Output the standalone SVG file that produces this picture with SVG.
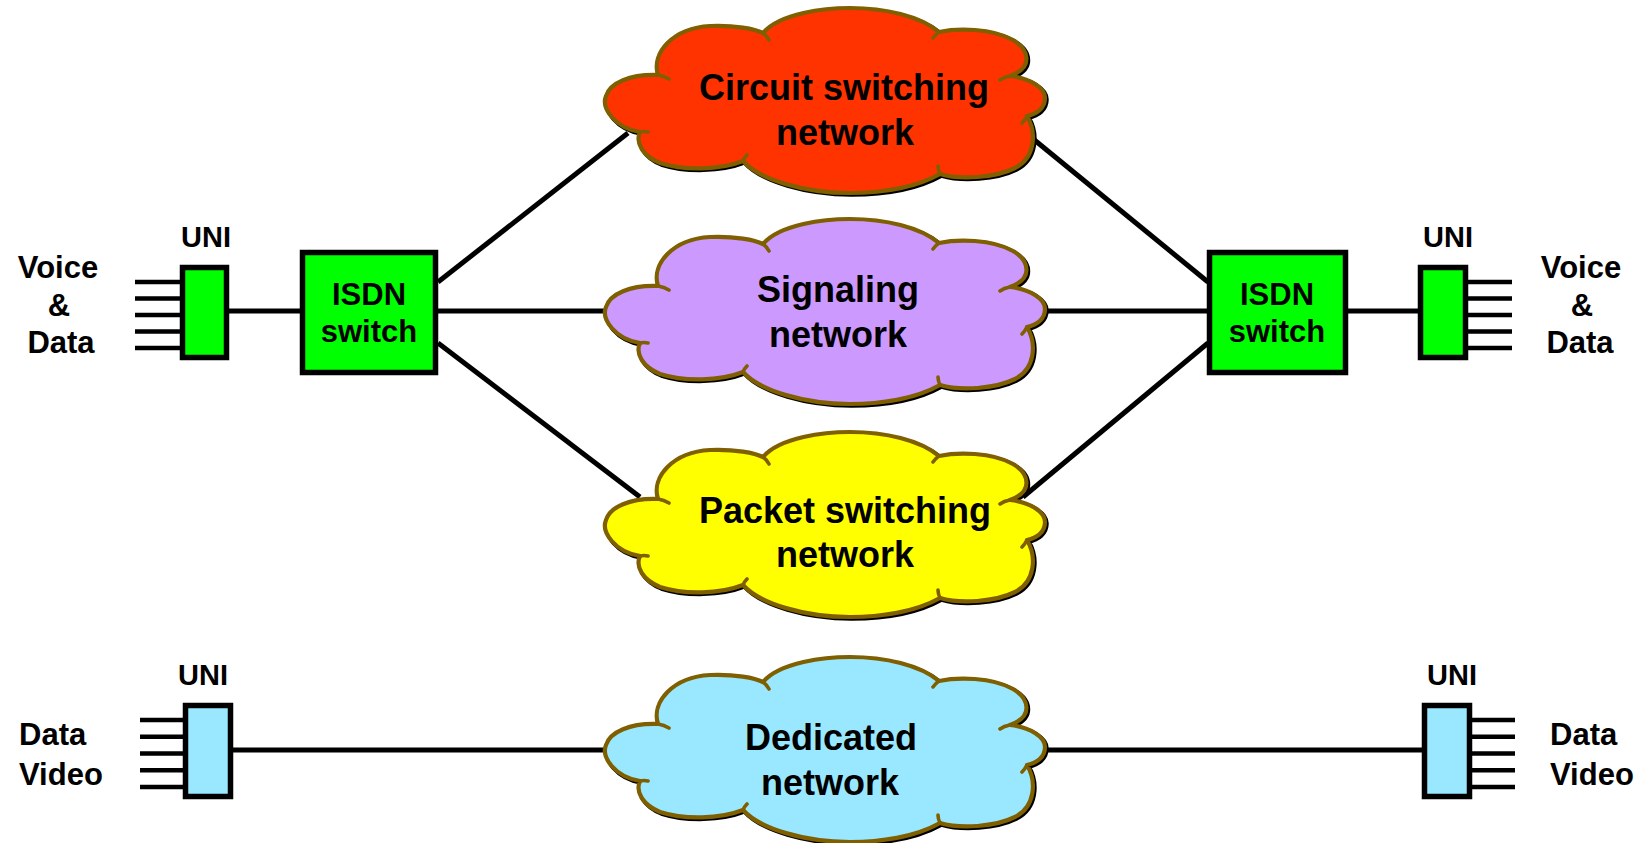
<svg xmlns="http://www.w3.org/2000/svg" xmlns:xlink="http://www.w3.org/1999/xlink" width="1644" height="843" viewBox="0 0 1644 843">
  <style>
    .lbl { font-family: "Liberation Sans", Arial, sans-serif; font-weight: bold; fill: #000; }
    .t30 { font-size: 31px; }
    .t28 { font-size: 29px; }
    .t36 { font-size: 36px; }
    .mid { text-anchor: middle; }
    .wire { stroke: #000; stroke-width: 5; fill: none; }
    .pin { stroke: #000; stroke-width: 4.5; fill: none; }
    .box { stroke: #000; stroke-width: 5.5; }
    .green { fill: #00FF00; }
    .blue { fill: #99E8FF; }
    .cloud-shadow { fill: none; stroke: #000; stroke-width: 4.5; }
    .cloud-edge { stroke: #7F5F00; stroke-width: 4.2; stroke-linejoin: round; }
    .cloud-tail { fill: none; stroke: #7F5F00; stroke-width: 3.6; stroke-linecap: round; }
  </style>
  <defs>
    <!-- cloud outline, local box 0..440 x 0..185 -->
    <path id="cloudShape" d="M 53,67
      C 46,45 68,20 105,18 C 130,17 150,21 158,25
      C 175,5 220,0 245,0 C 280,0 315,8 334,24
      C 352,20 387,20 408,32 C 425,42 428,60 405,68
      C 425,70 440,80 440,90 C 440,100 432,106 422,108
      C 432,125 430,150 410,160 C 390,170 355,172 335,166
      C 310,180 275,185 245,185 C 200,185 155,172 138,153
      C 115,162 80,163 55,155 C 38,148 30,135 35,124
      C 10,120 -4,100 1,88 C 5,75 25,66 53,67 Z"/>
    <!-- small inner strokes at the lobe junctions -->
    <path id="cloudTails" d="M 53,67 q 6,1 11,4
      M 158,25 q 4,3 6,7
      M 334,24 q -3,2 -6,6
      M 405,68 q -6,1 -10,4
      M 422,108 q -2,4 -5,7
      M 335,166 q -2,-4 -2,-8
      M 138,153 q 1,-3 4,-6
      M 35,124 q 4,-1 8,0"/>
  </defs>

  <!-- connectors -->
  <g id="connectors">
    <!-- left ISDN switch to networks -->
    <line class="wire" x1="438" y1="282" x2="628" y2="133"/>
    <line class="wire" x1="438" y1="311" x2="606" y2="311"/>
    <line class="wire" x1="438" y1="343" x2="640" y2="497"/>
    <!-- networks to right ISDN switch -->
    <line class="wire" x1="1032" y1="138" x2="1208" y2="282"/>
    <line class="wire" x1="1045" y1="311" x2="1208" y2="311"/>
    <line class="wire" x1="1023" y1="497" x2="1208" y2="343"/>
    <!-- UNI to ISDN switch -->
    <line class="wire" x1="228" y1="311" x2="302" y2="311"/>
    <line class="wire" x1="1346" y1="311" x2="1420" y2="311"/>
    <!-- dedicated path -->
    <line class="wire" x1="233" y1="750" x2="606" y2="750"/>
    <line class="wire" x1="1045" y1="750" x2="1422" y2="750"/>
  </g>

  <!-- upper left terminal side -->
  <g id="label-voice-data-left">
    <text class="lbl t30 mid" x="58" y="278">Voice</text>
    <text class="lbl t30 mid" x="59" y="316">&amp;</text>
    <text class="lbl t30 mid" x="61" y="353">Data</text>
  </g>
  <g id="uni-left-top">
    <text class="lbl t28 mid" x="206" y="247">UNI</text>
    <path class="pin" d="M135,282 H182 M135,298.5 H182 M135,315 H182 M135,331.5 H182 M135,348 H182"/>
    <rect class="box green" x="182.5" y="267.5" width="44" height="90"/>
  </g>
  <g id="isdn-left">
    <rect class="box green" x="302.5" y="252.5" width="133" height="120"/>
    <text class="lbl t30 mid" x="369" y="305">ISDN</text>
    <text class="lbl t30 mid" x="369" y="342">switch</text>
  </g>

  <!-- networks -->
  <g id="cloud-circuit" transform="translate(605,8)">
    <use xlink:href="#cloudShape" class="cloud-shadow" transform="translate(1.5,1.5)"/>
    <use xlink:href="#cloudShape" class="cloud-edge" fill="#FF3300"/>
    <use xlink:href="#cloudTails" class="cloud-tail"/>
    <text class="lbl t36 mid" x="239" y="92">Circuit switching</text>
    <text class="lbl t36 mid" x="240" y="137">network</text>
  </g>
  <g id="cloud-signaling" transform="translate(605,219)">
    <use xlink:href="#cloudShape" class="cloud-shadow" transform="translate(1.5,1.5)"/>
    <use xlink:href="#cloudShape" class="cloud-edge" fill="#CC99FF"/>
    <use xlink:href="#cloudTails" class="cloud-tail"/>
    <text class="lbl t36 mid" x="233" y="83">Signaling</text>
    <text class="lbl t36 mid" x="233" y="128">network</text>
  </g>
  <g id="cloud-packet" transform="translate(605,432)">
    <use xlink:href="#cloudShape" class="cloud-shadow" transform="translate(1.5,1.5)"/>
    <use xlink:href="#cloudShape" class="cloud-edge" fill="#FFFF00"/>
    <use xlink:href="#cloudTails" class="cloud-tail"/>
    <text class="lbl t36 mid" x="240" y="91">Packet switching</text>
    <text class="lbl t36 mid" x="240" y="135">network</text>
  </g>
  <g id="cloud-dedicated" transform="translate(605,657)">
    <use xlink:href="#cloudShape" class="cloud-shadow" transform="translate(1.5,1.5)"/>
    <use xlink:href="#cloudShape" class="cloud-edge" fill="#99E8FF"/>
    <use xlink:href="#cloudTails" class="cloud-tail"/>
    <text class="lbl t36 mid" x="226" y="93">Dedicated</text>
    <text class="lbl t36 mid" x="225" y="138">network</text>
  </g>

  <!-- upper right terminal side -->
  <g id="isdn-right">
    <rect class="box green" x="1209.5" y="252.5" width="136" height="120"/>
    <text class="lbl t30 mid" x="1277" y="305">ISDN</text>
    <text class="lbl t30 mid" x="1277" y="342">switch</text>
  </g>
  <g id="uni-right-top">
    <text class="lbl t28 mid" x="1448" y="247">UNI</text>
    <path class="pin" d="M1466,282 H1512 M1466,298.5 H1512 M1466,315 H1512 M1466,331.5 H1512 M1466,348 H1512"/>
    <rect class="box green" x="1420.5" y="267.5" width="45" height="90"/>
  </g>
  <g id="label-voice-data-right">
    <text class="lbl t30 mid" x="1581" y="278">Voice</text>
    <text class="lbl t30 mid" x="1582" y="316">&amp;</text>
    <text class="lbl t30 mid" x="1580" y="353">Data</text>
  </g>

  <!-- lower dedicated line terminals -->
  <g id="label-data-video-left">
    <text class="lbl t30" x="19" y="745">Data</text>
    <text class="lbl t30" x="19" y="785">Video</text>
  </g>
  <g id="uni-left-bottom">
    <text class="lbl t28 mid" x="203" y="685">UNI</text>
    <path class="pin" d="M140,720 H186 M140,736.75 H186 M140,753.5 H186 M140,770.25 H186 M140,787 H186"/>
    <rect class="box blue" x="185.5" y="705.5" width="45" height="91"/>
  </g>
  <g id="uni-right-bottom">
    <text class="lbl t28 mid" x="1452" y="685">UNI</text>
    <path class="pin" d="M1470,720 H1515 M1470,736.75 H1515 M1470,753.5 H1515 M1470,770.25 H1515 M1470,787 H1515"/>
    <rect class="box blue" x="1424.5" y="705.5" width="45" height="91"/>
  </g>
  <g id="label-data-video-right">
    <text class="lbl t30" x="1550" y="745">Data</text>
    <text class="lbl t30" x="1550" y="785">Video</text>
  </g>
</svg>
